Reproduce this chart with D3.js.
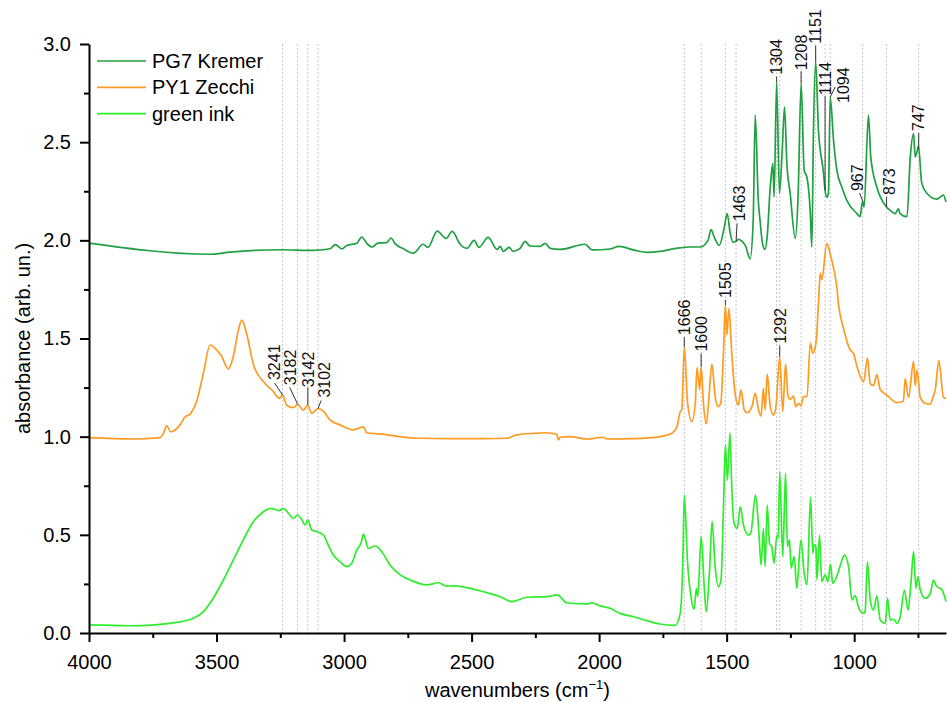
<!DOCTYPE html>
<html>
<head>
<meta charset="utf-8">
<script src="https://cdn.jsdelivr.net/npm/d3@7"></script>
<style>
    body { margin: 0; background: #fff; }
    text { font-family: Arial, "Liberation Sans", sans-serif; }
</style>
</head>
<body>
<div id="chart"></div>
<script>
// spectra, [wavenumber, absorbance]
const pg7Kremer = [
    [4000,1.986],[3525,1.929],[3447,1.940],[3251,1.952],[3122,1.949],[3055,1.957],[3035,1.978],[3009,1.957],
    [2989,1.974],[2950,1.985],[2931,2.017],[2911,1.985],[2891,1.966],[2867,1.986],[2833,1.988],[2816,2.012],
    [2800,1.983],[2767,1.957],[2728,1.935],[2690,1.980],[2671,1.964],[2635,2.047],[2600,2.010],[2576,2.046],
    [2545,1.980],[2518,1.959],[2490,2.000],[2471,1.964],[2435,2.015],[2400,1.954],[2388,1.969],[2376,1.944],
    [2353,1.964],[2337,1.944],[2310,1.959],[2290,1.995],[2271,1.971],[2231,1.969],[2212,1.985],[2192,1.959],
    [2153,1.954],[2055,1.980],[2027,1.951],[1957,1.956],[1922,1.969],[1859,1.949],[1812,1.939],[1761,1.944],
    [1698,1.959],[1643,1.966],[1604,1.966],[1573,2.000],[1561,2.055],[1549,2.017],[1529,1.974],[1510,2.061],
    [1498,2.136],[1486,2.036],[1475,1.990],[1463,1.995],[1455,2.005],[1427,1.974],[1408,1.906],[1396,2.100],
    [1388,2.638],[1376,2.204],[1369,2.100],[1358,1.974],[1349,1.954],[1341,2.020],[1329,2.272],[1319,2.391],
    [1314,2.221],[1304,2.808],[1293,2.240],[1282,2.460],[1273,2.680],[1264,2.393],[1251,2.240],[1231,2.010],
    [1220,2.220],[1208,2.800],[1196,2.357],[1185,2.320],[1172,2.140],[1166,1.966],[1160,2.530],[1151,2.910],
    [1140,2.560],[1120,2.340],[1114,2.255],[1107,2.220],[1101,2.240],[1094,2.730],[1081,2.510],[1068,2.357],
    [1048,2.270],[1029,2.204],[989,2.136],[977,2.120],[967,2.200],[961,2.170],[944,2.638],[935,2.425],
    [911,2.270],[873,2.170],[859,2.153],[840,2.136],[827,2.160],[820,2.136],[793,2.120],[780,2.425],
    [767,2.544],[761,2.425],[754,2.450],[748,2.480],[735,2.290],[715,2.240],[676,2.210],[650,2.230],[640,2.195]
];

const py1Zecchi = [
    [4000,0.995],[3826,0.988],[3722,0.995],[3709,1.015],[3695,1.056],[3680,1.025],[3643,1.060],[3624,1.100],
    [3604,1.115],[3578,1.180],[3552,1.320],[3525,1.467],[3499,1.440],[3480,1.410],[3454,1.345],[3434,1.410],
    [3414,1.545],[3401,1.594],[3382,1.525],[3356,1.370],[3316,1.280],[3277,1.229],[3254,1.195],[3241,1.212],
    [3225,1.160],[3199,1.148],[3182,1.165],[3160,1.135],[3142,1.160],[3127,1.120],[3102,1.143],[3081,1.130],
    [3055,1.085],[3016,1.060],[2963,1.035],[2924,1.050],[2911,1.020],[2859,1.014],[2780,1.000],[2715,0.992],
    [2584,0.990],[2454,0.990],[2362,0.992],[2323,1.009],[2258,1.017],[2205,1.020],[2166,1.012],[2160,0.983],
    [2153,0.997],[2114,1.000],[2048,0.988],[1983,0.997],[1970,0.988],[1865,0.990],[1761,1.000],[1715,1.017],
    [1695,1.050],[1682,1.127],[1676,1.136],[1666,1.456],[1653,1.170],[1636,1.077],[1623,1.170],[1616,1.352],
    [1606,1.240],[1600,1.357],[1591,1.170],[1580,1.065],[1571,1.170],[1558,1.369],[1545,1.204],[1534,1.153],
    [1523,1.170],[1512,1.442],[1505,1.671],[1499,1.518],[1491,1.654],[1480,1.425],[1467,1.221],[1454,1.162],
    [1444,1.238],[1431,1.136],[1421,1.122],[1401,1.153],[1388,1.221],[1375,1.136],[1365,1.105],[1356,1.246],
    [1349,1.136],[1341,1.319],[1329,1.153],[1316,1.110],[1306,1.162],[1292,1.407],[1280,1.127],[1269,1.369],
    [1260,1.212],[1251,1.190],[1238,1.207],[1229,1.153],[1218,1.170],[1209,1.156],[1199,1.204],[1185,1.204],
    [1172,1.476],[1162,1.425],[1149,1.484],[1140,1.680],[1133,1.833],[1127,1.800],[1107,1.985],[1094,1.930],
    [1081,1.860],[1068,1.760],[1062,1.680],[1042,1.552],[1016,1.442],[1003,1.425],[989,1.357],[963,1.280],
    [948,1.400],[937,1.270],[924,1.260],[911,1.316],[898,1.240],[872,1.212],[832,1.173],[807,1.180],
    [800,1.296],[787,1.200],[767,1.383],[761,1.260],[754,1.340],[741,1.200],[722,1.170],[702,1.165],
    [689,1.210],[682,1.240],[668,1.388],[650,1.200],[640,1.195]
];

const greenInk = [
    [4000,0.041],[3839,0.037],[3643,0.057],[3591,0.075],[3552,0.108],[3513,0.177],[3473,0.270],[3434,0.372],
    [3395,0.474],[3356,0.567],[3323,0.610],[3290,0.635],[3271,0.630],[3254,0.623],[3238,0.635],[3218,0.610],
    [3199,0.584],[3183,0.601],[3166,0.578],[3153,0.550],[3142,0.576],[3127,0.525],[3105,0.516],[3081,0.499],
    [3062,0.448],[3042,0.397],[3016,0.363],[2989,0.338],[2970,0.355],[2950,0.423],[2933,0.460],[2924,0.504],
    [2905,0.431],[2878,0.443],[2852,0.414],[2820,0.346],[2780,0.296],[2741,0.270],[2676,0.245],[2630,0.256],
    [2597,0.239],[2571,0.240],[2519,0.231],[2454,0.210],[2388,0.185],[2342,0.160],[2284,0.182],[2205,0.185],
    [2164,0.194],[2127,0.154],[2048,0.148],[2029,0.154],[1996,0.138],[1957,0.126],[1918,0.100],[1865,0.083],
    [1813,0.063],[1761,0.046],[1702,0.039],[1682,0.100],[1672,0.355],[1666,0.703],[1653,0.355],[1640,0.185],
    [1627,0.121],[1619,0.228],[1613,0.185],[1600,0.494],[1588,0.236],[1580,0.108],[1567,0.321],[1557,0.567],
    [1545,0.338],[1532,0.236],[1522,0.270],[1512,0.661],[1505,0.958],[1497,0.779],[1487,1.020],[1480,0.745],
    [1471,0.559],[1458,0.533],[1447,0.643],[1434,0.550],[1414,0.499],[1405,0.510],[1387,0.703],[1375,0.540],
    [1365,0.346],[1356,0.533],[1349,0.338],[1341,0.652],[1332,0.457],[1323,0.440],[1314,0.355],[1303,0.499],
    [1298,0.480],[1292,0.822],[1280,0.389],[1269,0.814],[1262,0.440],[1254,0.474],[1247,0.330],[1235,0.389],
    [1225,0.228],[1209,0.474],[1196,0.304],[1185,0.245],[1171,0.692],[1162,0.406],[1157,0.450],[1150,0.440],
    [1146,0.270],[1136,0.499],[1127,0.261],[1114,0.296],[1103,0.261],[1093,0.351],[1084,0.253],[1062,0.312],
    [1048,0.372],[1038,0.397],[1022,0.338],[1009,0.168],[996,0.190],[983,0.130],[963,0.100],[957,0.110],
    [948,0.363],[937,0.168],[924,0.117],[911,0.189],[898,0.066],[878,0.049],[869,0.177],[859,0.066],
    [846,0.070],[832,0.049],[820,0.080],[803,0.219],[789,0.117],[778,0.245],[767,0.414],[758,0.228],
    [750,0.287],[741,0.220],[722,0.177],[702,0.200],[689,0.270],[678,0.240],[656,0.220],[640,0.160]
];

const seriesNames = ["PG7 Kremer", "PY1 Zecchi", "green ink"];
const seriesColors = ["#1fa043", "#ff9a22", "#2ded2d"];

// labelled band positions (cm-1)
const pg7Peaks = [1463, 1304, 1208, 1151, 1114, 1094, 967, 873, 747];
const py1Peaks = [3241, 3182, 3142, 3102, 1666, 1600, 1505, 1292];

const xTicks = [4000, 3500, 3000, 2500, 2000, 1500, 1000];
const xMinor = [3750, 3250, 2750, 2250, 1750, 1250, 750];
const yTicks = [0, 0.5, 1.0, 1.5, 2.0, 2.5, 3.0];
const yMinor = [0.25, 0.75, 1.25, 1.75, 2.25, 2.75];

// label placement in px relative to the peak: [text dx, text dy, leader dx, leader dy]
const pg7LabelPos = [[3,-20,1,-18],[0,-7,0,-5],[0,-13,0,-12],[0,-18,0,-16],[0,-95,0,-94],[13,6,5,-10],[-5,-10,-3,-8],[3,-12,0,-10],[0,-18,0,-16]];
const py1LabelPos = [[-8,-15,-8,-12],[-7,-19,-8,-17],[1,-18,0,-18],[6,-11,3,-8],[0,-12,0,-10],[0,-15,0,-13],[0,-7,0,-5],[1,-13,0,-11]];

const margin = { top: 44, right: 2, bottom: 69, left: 89 },
    width = 948 - margin.left - margin.right,
    height = 702 - margin.top - margin.bottom;

const svg = d3.select("#chart").append("svg")
    .attr("width", 948)
    .attr("height", 702);

const g = svg.append("g")
    .attr("transform", `translate(${margin.left},${margin.top})`);

const x = d3.scaleLinear().domain([4000, 640]).range([0, width]);
const y = d3.scaleLinear().domain([0, 3]).range([height, 0]);

function valueAt(data, w) {
    for (let i = 1; i < data.length; i++) {
        if (data[i][0] <= w) {
            const [w0, a0] = data[i - 1], [w1, a1] = data[i];
            return a0 + (a1 - a0) * (w - w0) / (w1 - w0);
        }
    }
    return data[data.length - 1][1];
}

// dotted guides at the labelled bands
const guides = py1Peaks.concat(pg7Peaks);
g.selectAll(".guide").data(guides).enter().append("line")
    .attr("x1", d => x(d)).attr("x2", d => x(d))
    .attr("y1", 0).attr("y2", height)
    .attr("stroke", "#c4c4c4")
    .attr("stroke-width", 1)
    .attr("stroke-dasharray", "2,2");

// x pixels grow as wavenumber falls, so monotoneX keeps peaks from overshooting
const line = d3.line()
    .curve(d3.curveMonotoneX)
    .x(d => x(d[0]))
    .y(d => y(d[1]));

[pg7Kremer, py1Zecchi, greenInk].forEach((s, i) => {
    g.append("path")
        .datum(s)
        .attr("fill", "none")
        .attr("stroke", seriesColors[i])
        .attr("stroke-width", 1.7)
        .attr("stroke-linejoin", "round")
        .attr("d", line);
});

// peak labels
function drawLabels(peaks, data, pos) {
    peaks.forEach((w, i) => {
        const ax = x(w), ay = y(valueAt(data, w));
        const p = pos[i];
        g.append("line")
            .attr("x1", ax).attr("y1", ay)
            .attr("x2", ax + p[2]).attr("y2", ay + p[3])
            .attr("stroke", "#333")
            .attr("stroke-width", 1);
        g.append("text")
            .attr("transform", `translate(${ax + p[0]},${ay + p[1]}) rotate(-90)`)
            .attr("dy", "0.35em")
            .attr("font-size", "16px")
            .attr("fill", "#111")
            .text(w);
    });
}
drawLabels(pg7Peaks, pg7Kremer, pg7LabelPos);
drawLabels(py1Peaks, py1Zecchi, py1LabelPos);

// axes
g.append("g")
    .attr("transform", `translate(0,${height})`)
    .call(d3.axisBottom(x).tickValues(xTicks).tickFormat(d3.format("d")).tickSize(9).tickSizeOuter(0).tickPadding(13));
g.append("g")
    .attr("transform", `translate(0,${height})`)
    .call(d3.axisBottom(x).tickValues(xMinor).tickFormat("").tickSize(5).tickSizeOuter(0))
    .select(".domain").remove();

g.append("g")
    .call(d3.axisLeft(y).tickValues(yTicks).tickFormat(d3.format(".1f")).tickSize(9).tickSizeOuter(0).tickPadding(9));
g.append("g")
    .call(d3.axisLeft(y).tickValues(yMinor).tickFormat("").tickSize(5).tickSizeOuter(0))
    .select(".domain").remove();

g.selectAll(".tick line").attr("stroke", "#000").attr("stroke-width", 2);
g.selectAll(".domain").attr("stroke", "#000").attr("stroke-width", 2);
g.selectAll(".tick text").attr("font-size", "20px").attr("fill", "#000")
    .style("font-family", "Arial, 'Liberation Sans', sans-serif");

// axis titles
svg.append("text")
    .attr("transform", `translate(30,${margin.top + height / 2}) rotate(-90)`)
    .attr("text-anchor", "middle")
    .attr("font-size", "20px")
    .text("absorbance (arb. un.)");

const xt = svg.append("text")
    .attr("x", margin.left + width / 2)
    .attr("y", 697)
    .attr("text-anchor", "middle")
    .attr("font-size", "20px");
xt.append("tspan").text("wavenumbers (cm");
xt.append("tspan").attr("dy", -8).attr("font-size", "13px").text("\u22121");
xt.append("tspan").attr("dy", 8).text(")");

// legend
const legend = svg.append("g").attr("transform", "translate(97,61)");
seriesNames.forEach((name, i) => {
    const row = legend.append("g").attr("transform", `translate(0,${i * 26.3})`);
    row.append("line")
        .attr("x1", 0).attr("x2", 49)
        .attr("stroke", seriesColors[i])
        .attr("stroke-width", 1.7);
    row.append("text")
        .attr("x", 55)
        .attr("dy", "0.35em")
        .attr("font-size", "20px")
        .text(name);
});
</script>
</body>
</html>
